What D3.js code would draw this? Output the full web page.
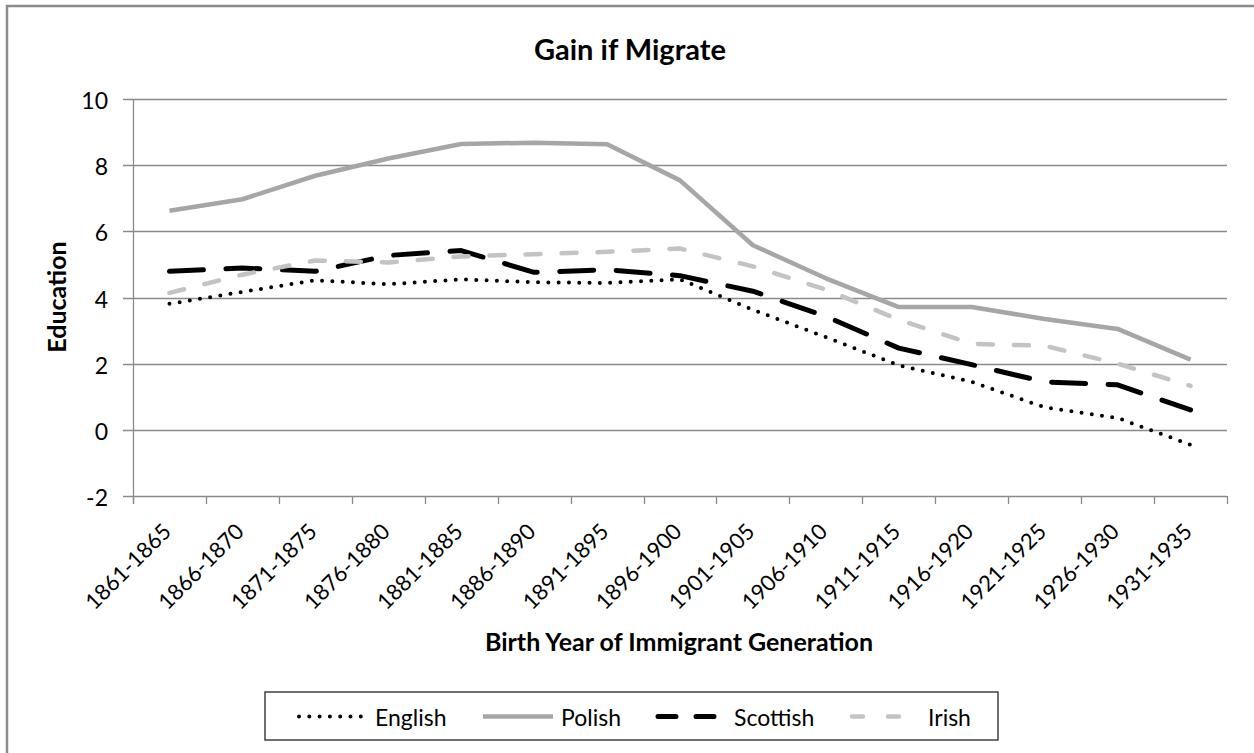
<!DOCTYPE html>
<html>
<head>
<meta charset="utf-8">
<script src="https://cdn.jsdelivr.net/npm/d3@7"></script>
<style>
  html, body { margin: 0; padding: 0; background: #fff; }
  svg { display: block; }
  text { font-family: Lato, "Open Sans", sans-serif; fill: #000; }
</style>
</head>
<body>
<script>
const categories = ["1861-1865","1866-1870","1871-1875","1876-1880","1881-1885","1886-1890","1891-1895","1896-1900","1901-1905","1906-1910","1911-1915","1916-1920","1921-1925","1926-1930","1931-1935"];
const english  = [3.81, 4.17, 4.52, 4.40, 4.55, 4.46, 4.44, 4.55, 3.63, 2.80, 1.95, 1.45, 0.68, 0.36, -0.45];
const polish   = [6.62, 6.97, 7.68, 8.20, 8.64, 8.68, 8.63, 7.54, 5.58, 4.58, 3.71, 3.71, 3.35, 3.05, 2.12];
const scottish = [4.79, 4.89, 4.79, 5.27, 5.42, 4.76, 4.84, 4.66, 4.19, 3.43, 2.47, 1.97, 1.45, 1.36, 0.60];
const irish    = [4.14, 4.69, 5.12, 5.06, 5.24, 5.31, 5.38, 5.48, 4.94, 4.24, 3.33, 2.60, 2.54, 2.00, 1.33];
const yTicks = [-2, 0, 2, 4, 6, 8, 10];
const seriesNames = ["English", "Polish", "Scottish", "Irish"];

const series = [
  {name: "English",  values: english,  color: "#000000", width: 4,   dash: "0 10.3", cap: "round"},
  {name: "Polish",   values: polish,   color: "#a6a6a6", width: 4.5, dash: null,     cap: "butt"},
  {name: "Scottish", values: scottish, color: "#000000", width: 5,   dash: "34 22.5", cap: "round"},
  {name: "Irish",    values: irish,    color: "#c3c3c3", width: 4.5, dash: "15 21",  cap: "round"}
];

const W = 1254, H = 753;
const svg = d3.select("body").append("svg").attr("width", W).attr("height", H);

// outer frame
svg.append("rect").attr("x", 7).attr("y", 6).attr("width", 1270).attr("height", 780)
  .attr("fill", "#fff").attr("stroke", "#8c8c8c").attr("stroke-width", 2.5);

const plot = {left: 133, right: 1227, top: 99, bottom: 496};

const x = d3.scaleBand().domain(categories).range([plot.left, plot.right]).padding(0);
const y = d3.scaleLinear().domain([-2, 10]).range([plot.bottom, plot.top]);

// gridlines + y ticks
const gridColor = "#8a8a8a";
svg.append("g").selectAll("line").data(yTicks).join("line")
  .attr("x1", plot.left - 10).attr("x2", plot.right)
  .attr("y1", d => Math.round(y(d)) + 0.5).attr("y2", d => Math.round(y(d)) + 0.5)
  .attr("stroke", gridColor).attr("stroke-width", 1.3);

// y axis line
svg.append("line").attr("x1", plot.left + 0.5).attr("x2", plot.left + 0.5)
  .attr("y1", plot.top).attr("y2", plot.bottom + 8)
  .attr("stroke", gridColor).attr("stroke-width", 1.3);

// x ticks at band edges
const edges = categories.map(c => x(c)).concat([plot.right]);
svg.append("g").selectAll("line").data(edges).join("line")
  .attr("x1", d => Math.round(d) + 0.5).attr("x2", d => Math.round(d) + 0.5)
  .attr("y1", plot.bottom).attr("y2", plot.bottom + 8)
  .attr("stroke", gridColor).attr("stroke-width", 1.3);

// y tick labels
svg.append("g").selectAll("text").data(yTicks).join("text")
  .attr("x", 108).attr("y", d => y(d) + 1)
  .attr("text-anchor", "end").attr("dominant-baseline", "central")
  .attr("font-size", 23).attr("fill", "#000")
  .text(d => d);

// x tick labels rotated
svg.append("g").selectAll("text").data(categories).join("text")
  .attr("transform", d => `translate(${x(d) + x.bandwidth() / 2 + 3},${533}) rotate(-45)`)
  .attr("text-anchor", "end")
  .attr("font-size", 22)
  .text(d => d);

// titles
svg.append("text").attr("x", 630).attr("y", 60).attr("text-anchor", "middle")
  .attr("font-size", 29).attr("font-weight", "bold").text("Gain if Migrate");
svg.append("text").attr("x", 679).attr("y", 651).attr("text-anchor", "middle")
  .attr("font-size", 25).attr("font-weight", "bold").text("Birth Year of Immigrant Generation");
svg.append("text").attr("transform", `translate(66,297) rotate(-90)`).attr("text-anchor", "middle")
  .attr("font-size", 25).attr("font-weight", "bold").text("Education");

// lines
const line = d3.line()
  .x((d, i) => x(categories[i]) + x.bandwidth() / 2)
  .y(d => y(d));

svg.append("g").selectAll("path").data(series).join("path")
  .attr("d", s => line(s.values))
  .attr("fill", "none")
  .attr("stroke", s => s.color)
  .attr("stroke-width", s => s.width)
  .attr("stroke-dasharray", s => s.dash)
  .attr("stroke-linecap", s => s.cap)
  .attr("stroke-linejoin", "round");

// legend
const lg = svg.append("g");
lg.append("rect").attr("x", 265).attr("y", 692).attr("width", 733).attr("height", 48)
  .attr("fill", "#fff").attr("stroke", "#404040").attr("stroke-width", 1.5);
const legendPos = [
  {x1: 299, x2: 365, tx: 375},
  {x1: 483, x2: 553, tx: 561},
  {x1: 658, x2: 726, tx: 734},
  {x1: 852, x2: 905, tx: 928}
];
const ly = 716.5;
series.forEach((s, i) => {
  const p = legendPos[i];
  lg.append("line").attr("x1", p.x1).attr("x2", p.x2).attr("y1", ly).attr("y2", ly)
    .attr("stroke", s.color).attr("stroke-width", s.width)
    .attr("stroke-dasharray", s.name === "Scottish" ? "18 20" : (s.name === "Irish" ? "11 25" : s.dash))
    .attr("stroke-linecap", s.cap);
  lg.append("text").attr("x", p.tx).attr("y", ly).attr("dominant-baseline", "central")
    .attr("font-size", 23).text(seriesNames[i]);
});
</script>
</body>
</html>
